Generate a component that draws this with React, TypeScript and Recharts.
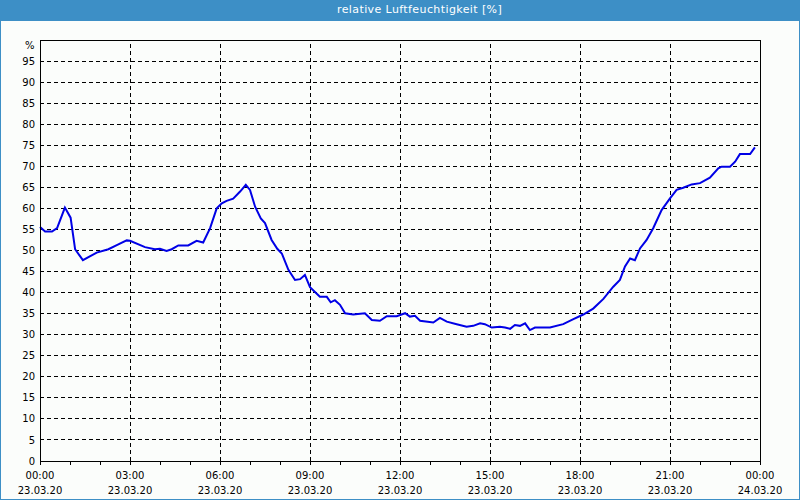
import React from "react";
import {
  LineChart,
  Line,
  XAxis,
  YAxis,
  CartesianGrid,
  ReferenceLine,
  ReferenceArea,
} from "recharts";

const hours = [
  0, 0.17, 0.4, 0.57, 0.83, 1.02, 1.17, 1.43, 1.89, 2.28, 2.56, 2.89, 3.0, 3.5,
  3.83, 4.0, 4.22, 4.39, 4.61, 4.94, 5.22, 5.44, 5.67, 5.89, 6.06, 6.22, 6.44,
  6.67, 6.86, 7.0, 7.17, 7.36, 7.5, 7.72, 7.91, 8.06, 8.28, 8.5, 8.67, 8.83, 9.0,
  9.33, 9.56, 9.69, 9.83, 10.0, 10.17, 10.44, 10.83, 11.06, 11.33, 11.56, 11.89,
  12.17, 12.33, 12.5, 12.67, 13.11, 13.33, 13.56, 13.89, 14.22, 14.44, 14.67,
  14.83, 15.06, 15.33, 15.5, 15.67, 15.83, 16.0, 16.17, 16.33, 16.5, 17.0, 17.44,
  17.78, 18.11, 18.44, 18.78, 19.11, 19.33, 19.5, 19.67, 19.83, 20.0, 20.22,
  20.44, 20.72, 21.0, 21.22, 21.44, 21.72, 22.0, 22.33, 22.61, 22.72, 23.0,
  23.17, 23.33, 23.67, 23.83,
];

const humidity = [
  55.6, 54.5, 54.5, 55.3, 60.2, 57.8, 50.3, 47.7, 49.5, 50.3, 51.3, 52.4, 52.3,
  50.8, 50.3, 50.4, 49.9, 50.3, 51.2, 51.2, 52.3, 51.9, 55.3, 60.0, 61.2, 61.8,
  62.3, 64.0, 65.6, 64.4, 60.4, 57.6, 56.5, 52.5, 50.4, 49.3, 45.4, 43.0, 43.2,
  44.2, 41.3, 39.0, 39.0, 37.7, 38.2, 37.1, 35.1, 34.8, 35.1, 33.5, 33.3, 34.4,
  34.4, 35.1, 34.3, 34.5, 33.3, 32.9, 34.0, 33.1, 32.5, 31.9, 32.1, 32.7, 32.5,
  31.7, 31.9, 31.7, 31.4, 32.3, 32.1, 32.7, 31.1, 31.7, 31.7, 32.5, 33.7, 34.8,
  36.2, 38.5, 41.4, 43.0, 46.2, 48.1, 47.7, 50.5, 52.5, 55.3, 59.6, 62.4, 64.4,
  64.9, 65.7, 66.0, 67.3, 69.5, 69.9, 69.9, 71.1, 72.9, 72.9, 74.5,
];

const hourTicks = [
  0, 1, 2, 3, 4, 5, 6, 7, 8, 9, 10, 11, 12, 13, 14, 15, 16, 17, 18, 19, 20, 21,
  22, 23, 24,
];
const majorHours = [0, 3, 6, 9, 12, 15, 18, 21, 24];
const timeLabels = [
  "00:00", "03:00", "06:00", "09:00", "12:00", "15:00", "18:00", "21:00", "00:00",
];
const dateLabels = [
  "23.03.20", "23.03.20", "23.03.20", "23.03.20", "23.03.20", "23.03.20",
  "23.03.20", "23.03.20", "24.03.20",
];
const yTicks = [
  0, 5, 10, 15, 20, 25, 30, 35, 40, 45, 50, 55, 60, 65, 70, 75, 80, 85, 90, 95,
];

const data = hours.map((h, i) => ({ h, v: humidity[i] }));

const FONT = "'DejaVu Sans', Verdana, sans-serif";
const BLUE = "#3d8fc6";

function XTick(props: any) {
  const { x, y, payload } = props;
  const i = majorHours.indexOf(payload.value);
  if (i < 0) return null;
  return (
    <g>
      <text x={x} y={y + 14} textAnchor="middle" fontSize={10} fontFamily={FONT} fill="#000">
        {timeLabels[i]}
      </text>
      <text x={x} y={y + 29} textAnchor="middle" fontSize={10} fontFamily={FONT} fill="#000">
        {dateLabels[i]}
      </text>
    </g>
  );
}

export default function App() {
  return (
    <div
      style={{
        position: "absolute",
        left: 0,
        top: 0,
        width: 800,
        height: 500,
        background: "#fbfdfb",
        fontFamily: FONT,
      }}
    >
      <LineChart
        width={800}
        height={500}
        data={data}
        margin={{ top: 40, right: 40, bottom: 0, left: 0 }}
      >
        <CartesianGrid
          vertical={false}
          stroke="#000"
          strokeDasharray="4 3"
          shapeRendering="crispEdges"
        />
        <XAxis
          dataKey="h"
          type="number"
          domain={[0, 24]}
          ticks={hourTicks}
          interval={0}
          height={39}
          tickSize={4}
          tickMargin={0}
          tick={<XTick />}
          axisLine={{ stroke: "#000", shapeRendering: "crispEdges" }}
          tickLine={{ stroke: "#000", shapeRendering: "crispEdges" }}
        />
        <YAxis
          type="number"
          domain={[0, 100]}
          ticks={yTicks}
          interval={0}
          width={40}
          tickSize={0}
          tickMargin={5}
          tickLine={false}
          axisLine={{ stroke: "#000", shapeRendering: "crispEdges" }}
          tick={{ fontSize: 10, fontFamily: FONT, fill: "#000" }}
        />
        {majorHours.slice(1, -1).map((h) => (
          <ReferenceLine
            key={h}
            x={h}
            stroke="#000"
            strokeDasharray="4 3"
            shapeRendering="crispEdges"
          />
        ))}
        <ReferenceArea
          x1={0}
          x2={24}
          y1={0}
          y2={100}
          stroke="#000"
          strokeWidth={1}
          fill="none"
          fillOpacity={0}
          shapeRendering="crispEdges"
        />
        <Line
          type="linear"
          dataKey="v"
          stroke="#0000e6"
          strokeWidth={2}
          dot={false}
          isAnimationActive={false}
        />
      </LineChart>
      <div
        style={{
          position: "absolute",
          left: 0,
          top: 0,
          width: 800,
          height: 21,
          background: BLUE,
          color: "#fff",
          fontSize: 11,
          letterSpacing: 0.4,
          lineHeight: "20px",
        }}
      >
        <span style={{ position: "absolute", left: 337, top: 0 }}>
          relative Luftfeuchtigkeit [%]
        </span>
      </div>
      <div
        style={{
          position: "absolute",
          left: 25,
          top: 39,
          fontSize: 10,
          lineHeight: "14px",
          color: "#000",
        }}
      >
        %
      </div>
      <div
        style={{
          position: "absolute",
          left: 0,
          top: 0,
          width: 800,
          height: 500,
          boxSizing: "border-box",
          border: `1px solid ${BLUE}`,
          pointerEvents: "none",
        }}
      />
    </div>
  );
}
